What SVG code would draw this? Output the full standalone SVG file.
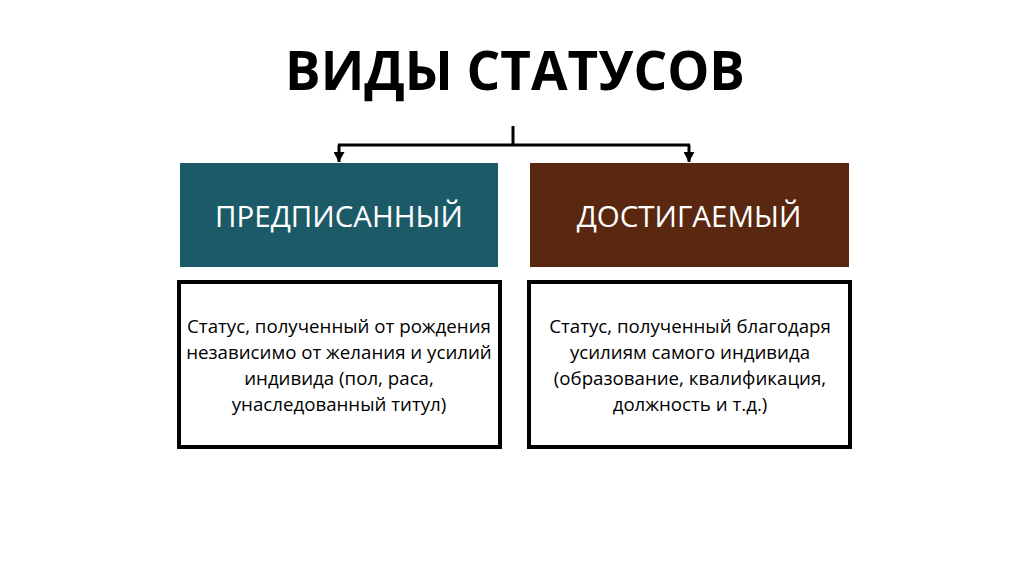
<svg xmlns="http://www.w3.org/2000/svg" width="1024" height="574" viewBox="0 0 1024 574">
<defs>
<style>
.title{font-family:"Open Sans","Liberation Sans",sans-serif;font-weight:bold;font-size:53px;fill:#000;text-anchor:middle}
.head{font-family:"Open Sans","Liberation Sans",sans-serif;font-size:29.5px;fill:#fff;text-anchor:middle}
.desc{font-family:"Open Sans","Liberation Sans",sans-serif;font-size:18.7px;fill:#000;text-anchor:middle}
.line{stroke:#000;stroke-width:3;fill:none}
.box{fill:#fff;stroke:#000;stroke-width:4}
</style>
<marker id="arr" markerWidth="11" markerHeight="11" refX="10" refY="5.5" orient="auto" markerUnits="userSpaceOnUse" viewBox="0 0 11 11">
<path d="M0,0 L10,5.5 L0,11 Z" fill="#000"/>
</marker>
</defs>
<rect width="1024" height="574" fill="#fff"/>
<text class="title" x="515" y="90">ВИДЫ СТАТУСОВ</text>
<g id="connectors">
<path class="line" d="M513,126 V145"/>
<path class="line" d="M338,145 H690"/>
<path class="line" d="M339,145 V162" marker-end="url(#arr)"/>
<path class="line" d="M689,145 V162" marker-end="url(#arr)"/>
</g>
<g id="node-ascribed">
<rect x="180" y="163" width="318" height="104" fill="#1d5a68"/>
<text class="head" x="339" y="227">ПРЕДПИСАННЫЙ</text>
</g>
<g id="node-achieved">
<rect x="530" y="163" width="319" height="104" fill="#5a2810"/>
<text class="head" x="689" y="227">ДОСТИГАЕМЫЙ</text>
</g>
<g id="desc-ascribed">
<rect class="box" x="179" y="282" width="321" height="165"/>
<text class="desc" x="339" y="333">Статус, полученный от рождения</text>
<text class="desc" x="339" y="359">независимо от желания и усилий</text>
<text class="desc" x="339" y="385">индивида (пол, раса,</text>
<text class="desc" x="339" y="411">унаследованный титул)</text>
</g>
<g id="desc-achieved">
<rect class="box" x="529" y="282" width="321" height="165"/>
<text class="desc" x="690" y="333">Статус, полученный благодаря</text>
<text class="desc" x="690" y="359">усилиям самого индивида</text>
<text class="desc" x="690" y="385">(образование, квалификация,</text>
<text class="desc" x="690" y="411">должность и т.д.)</text>
</g>
</svg>
